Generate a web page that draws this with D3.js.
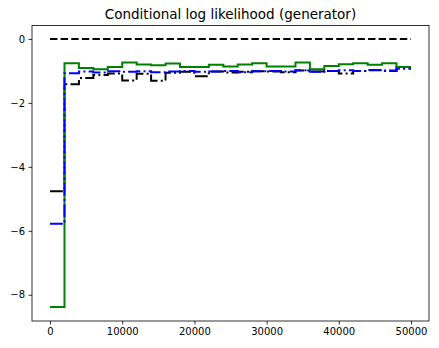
<!DOCTYPE html>
<html>
<head>
<meta charset="utf-8">
<script src="https://cdn.jsdelivr.net/npm/d3@7"></script>
<style>
html,body{margin:0;padding:0;background:#fff;}
svg{display:block;font-family:"DejaVu Sans",sans-serif;}
</style>
</head>
<body>
<svg id="chart" width="439" height="348"></svg>
<script>
const steps = [0,2000,4000,6000,8000,10000,12000,14000,16000,18000,20000,22000,24000,26000,28000,30000,32000,34000,36000,38000,40000,42000,44000,46000,48000,50000];
const realValues = [0,0,0,0,0,0,0,0,0,0,0,0,0,0,0,0,0,0,0,0,0,0,0,0,0,0];
const fakeValues = [-4.76,-1.42,-1.22,-1.13,-1.08,-1.30,-1.09,-1.31,-1.06,-1.03,-1.17,-1.02,-1.05,-1.03,-1.01,-1.02,-1.04,-0.99,-1.02,-1.0,-1.08,-1.0,-0.98,-1.0,-0.88,-0.88];
const genValues = [-5.78,-1.07,-1.02,-1.05,-1.01,-1.03,-1.01,-1.04,-1.02,-1.0,-1.03,-1.02,-1.0,-1.04,-1.01,-1.0,-1.02,-0.98,-1.03,-1.0,-0.98,-1.0,-0.97,-0.99,-0.93,-0.93];
const condValues = [-8.38,-0.76,-0.91,-0.95,-0.88,-0.74,-0.80,-0.82,-0.77,-0.88,-0.88,-0.81,-0.86,-0.80,-0.76,-0.86,-0.86,-0.74,-0.95,-0.85,-0.79,-0.76,-0.81,-0.76,-0.88,-0.88];
const xTicks = [0,10000,20000,30000,40000,50000];
const yTicks = [0,-2,-4,-6,-8];
const title = "Conditional log likelihood (generator)";

const svg = d3.select("#chart");
const L = 32, R = 429, T = 25.5, B = 321;
const x = d3.scaleLinear().domain([-2500, 52500]).range([L, R]);
const y = d3.scaleLinear().domain([-8.82, 0.42]).range([B, T]);

const fmtMinus = d => (d < 0 ? "\u2212" + Math.abs(d) : String(d));

const gx = svg.append("g").attr("transform", `translate(0,${B})`)
  .call(d3.axisBottom(x).tickValues(xTicks).tickFormat(d => String(d)).tickSize(3.5).tickPadding(3.5));
const gy = svg.append("g").attr("transform", `translate(${L},0)`)
  .call(d3.axisLeft(y).tickValues(yTicks).tickFormat(fmtMinus).tickSize(3.5).tickPadding(3.5));
[gx, gy].forEach(g => {
  g.select(".domain").remove();
  g.selectAll("line").attr("stroke", "#000").attr("stroke-width", 0.8);
  g.selectAll("text").attr("font-family", "DejaVu Sans").attr("font-size", 10).attr("fill", "#000");
});

svg.append("defs").append("clipPath").attr("id", "clip")
  .append("rect").attr("x", L).attr("y", T).attr("width", R - L).attr("height", B - T);

const plot = svg.append("g").attr("clip-path", "url(#clip)");
const line = d3.line().x((d, i) => x(steps[i])).y(d => y(d)).curve(d3.curveStepAfter);

function draw(vals, color, dash) {
  plot.append("path").datum(vals).attr("d", line)
    .attr("fill", "none").attr("stroke", color).attr("stroke-width", 2)
    .attr("stroke-dasharray", dash).attr("stroke-linejoin", "miter").attr("stroke-linecap", "butt");
}
draw(realValues, "#000", "7.4,3.2");
draw(fakeValues, "#000", "12.8,3.2,2,3.2");
draw(condValues, "#008000", null);
draw(genValues, "#0000ff", "12.8,3.2,2,3.2");

svg.append("rect").attr("x", L).attr("y", T).attr("width", R - L).attr("height", B - T)
  .attr("fill", "none").attr("stroke", "#000").attr("stroke-width", 0.8);

svg.append("text").attr("x", (L + R) / 2).attr("y", 19).attr("text-anchor", "middle")
  .attr("font-family", "DejaVu Sans").attr("font-size", 13.5).attr("fill", "#000").text(title);
</script>
</body>
</html>
